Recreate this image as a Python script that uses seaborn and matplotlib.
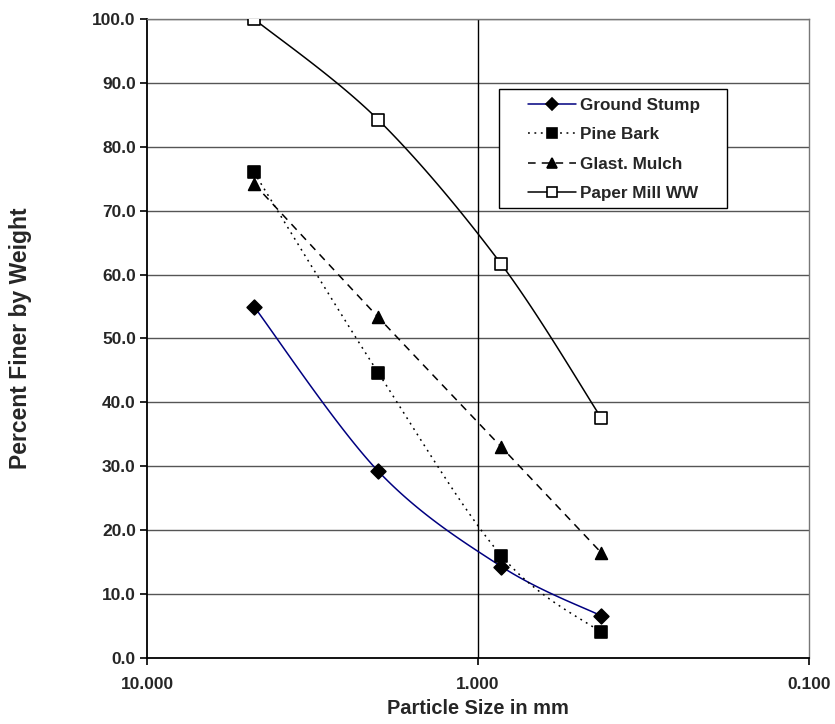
import numpy as np
import pandas as pd
import matplotlib
matplotlib.use("Agg")
import matplotlib.pyplot as plt
from matplotlib.lines import Line2D
from matplotlib.patches import Rectangle
from matplotlib.ticker import FixedLocator, FuncFormatter, NullLocator
import seaborn as sns

# Sieve openings (mm) and percent passing for each material
sizes_mm = [4.75, 2.0, 0.85, 0.425]
ground_stump = [55.0, 29.2, 14.3, 6.6]
pine_bark = [76.0, 44.6, 16.0, 4.0]
glast_mulch = [74.2, 53.3, 33.0, 16.5]
paper_mill = [100.0, 84.2, 61.6, 37.6]

series_names = ["Ground Stump", "Pine Bark", "Glast. Mulch", "Paper Mill WW"]
x_ticks = [10.0, 1.0, 0.1]
y_ticks = list(range(0, 101, 10))

sns.set_theme(style="white")
plt.rcParams["font.family"] = ["Liberation Sans", "DejaVu Sans"]
plt.rcParams["font.weight"] = "bold"

fig = plt.figure(figsize=(8.35, 7.24), dpi=100)
ax = fig.add_axes([0.176, 0.0912, 0.793, 0.8826])
ax.set_xscale("log")
ax.set_xlim(10, 0.1)
ax.set_ylim(0, 100)

styles = {
    "Ground Stump": dict(color="#000080", ls="-", marker="D", mfc="black", mec="black", ms=7.5),
    "Pine Bark": dict(color="black", ls=(0, (1.2, 3.0)), marker="s", mfc="black", mec="black", ms=8),
    "Glast. Mulch": dict(color="black", ls=(0, (5, 4)), marker="^", mfc="black", mec="black", ms=8.5),
    "Paper Mill WW": dict(color="black", ls="-", marker="s", mfc="white", mec="black", ms=8.5),
}

df = pd.DataFrame({
    "size": sizes_mm * 4,
    "pct": ground_stump + pine_bark + glast_mulch + paper_mill,
    "material": np.repeat(series_names, len(sizes_mm)),
})


def smooth_curve(xs, ys, n=40):
    """Catmull-Rom style Bezier smoothing, done in screen-proportional space."""
    w, h = 662.0, 639.0
    u = (1 - np.log10(np.asarray(xs))) / 2 * w
    v = np.asarray(ys) / 100 * h
    pts = np.column_stack([u, v])
    out = []
    for i in range(len(pts) - 1):
        p0 = pts[i - 1] if i > 0 else pts[i]
        p1, p2 = pts[i], pts[i + 1]
        p3 = pts[i + 2] if i + 2 < len(pts) else pts[i + 1]
        c1 = p1 + (p2 - p0) / 6
        c2 = p2 - (p3 - p1) / 6
        t = np.linspace(0, 1, n)[:, None]
        seg = ((1 - t) ** 3) * p1 + 3 * ((1 - t) ** 2) * t * c1 + 3 * (1 - t) * t ** 2 * c2 + t ** 3 * p2
        out.append(seg if i == 0 else seg[1:])
    seg = np.vstack(out)
    return 10 ** (1 - seg[:, 0] / w * 2), seg[:, 1] / h * 100


# grid first so the data sits on top
for yv in y_ticks[1:]:
    ax.axhline(yv, color="#555555", lw=1.0, zorder=1)
ax.axvline(1.0, color="black", lw=1.0, zorder=1)

handles = []
for name in series_names:
    sub = df[df["material"] == name]
    st = styles[name]
    cx, cy = smooth_curve(sub["size"].values, sub["pct"].values)
    sns.lineplot(x=cx, y=cy, ax=ax, sort=False, estimator=None, color=st["color"],
                 linestyle=st["ls"], lw=1.1, zorder=3, legend=False)
    sns.scatterplot(data=sub, x="size", y="pct", ax=ax, marker=st["marker"], s=st["ms"] ** 2,
                    color=st["mfc"], edgecolor=st["mec"], linewidth=1.2, zorder=4, legend=False)
    handles.append(Line2D([0], [0], color=st["color"], linestyle=st["ls"], lw=1.1,
                          marker=st["marker"], markerfacecolor=st["mfc"], markeredgecolor=st["mec"],
                          markersize=st["ms"] * 0.85, markeredgewidth=1.2, label=name))

# axes frame
for side in ["left", "bottom"]:
    ax.spines[side].set_color("black")
    ax.spines[side].set_linewidth(1.3)
for side in ["top", "right"]:
    ax.spines[side].set_color("#777777")
    ax.spines[side].set_linewidth(1.0)

ax.xaxis.set_major_locator(FixedLocator(x_ticks))
ax.xaxis.set_minor_locator(NullLocator())
ax.xaxis.set_major_formatter(FuncFormatter(lambda v, p: f"{v:.3f}"))
ax.yaxis.set_major_locator(FixedLocator(y_ticks))
ax.yaxis.set_major_formatter(FuncFormatter(lambda v, p: f"{v:.1f}"))
ax.tick_params(axis="both", which="major", direction="out", length=5, width=1.2,
               color="black", labelsize=12.5, bottom=True, left=True)
ax.tick_params(axis="x", pad=9)
ax.tick_params(axis="y", pad=3)
for lab in ax.get_xticklabels() + ax.get_yticklabels():
    lab.set_fontweight("bold")

ax.set_xlabel("Particle Size in mm", fontsize=14.4, fontweight="bold")
ax.xaxis.set_label_coords(0.5, -0.064)
ax.set_ylabel("Percent Finer by Weight", fontsize=16.5, fontweight="bold")
ax.yaxis.set_label_coords(-0.174, 0.5)

# legend entries with a separately drawn frame
leg = ax.legend(handles=handles, loc="upper left", bbox_to_anchor=(0.576, 0.876),
                frameon=False, prop=dict(weight="bold", size=12.3),
                handlelength=2.8, handletextpad=0.2, borderpad=0, labelspacing=0.83,
                borderaxespad=0, numpoints=1)
ax.add_patch(Rectangle((0.5317, 0.7042), 0.3444, 0.1863, transform=ax.transAxes,
                       facecolor="white", edgecolor="black", lw=1.0, zorder=5))
leg.set_zorder(6)

fig.savefig("out.png", dpi=100, facecolor="white")
